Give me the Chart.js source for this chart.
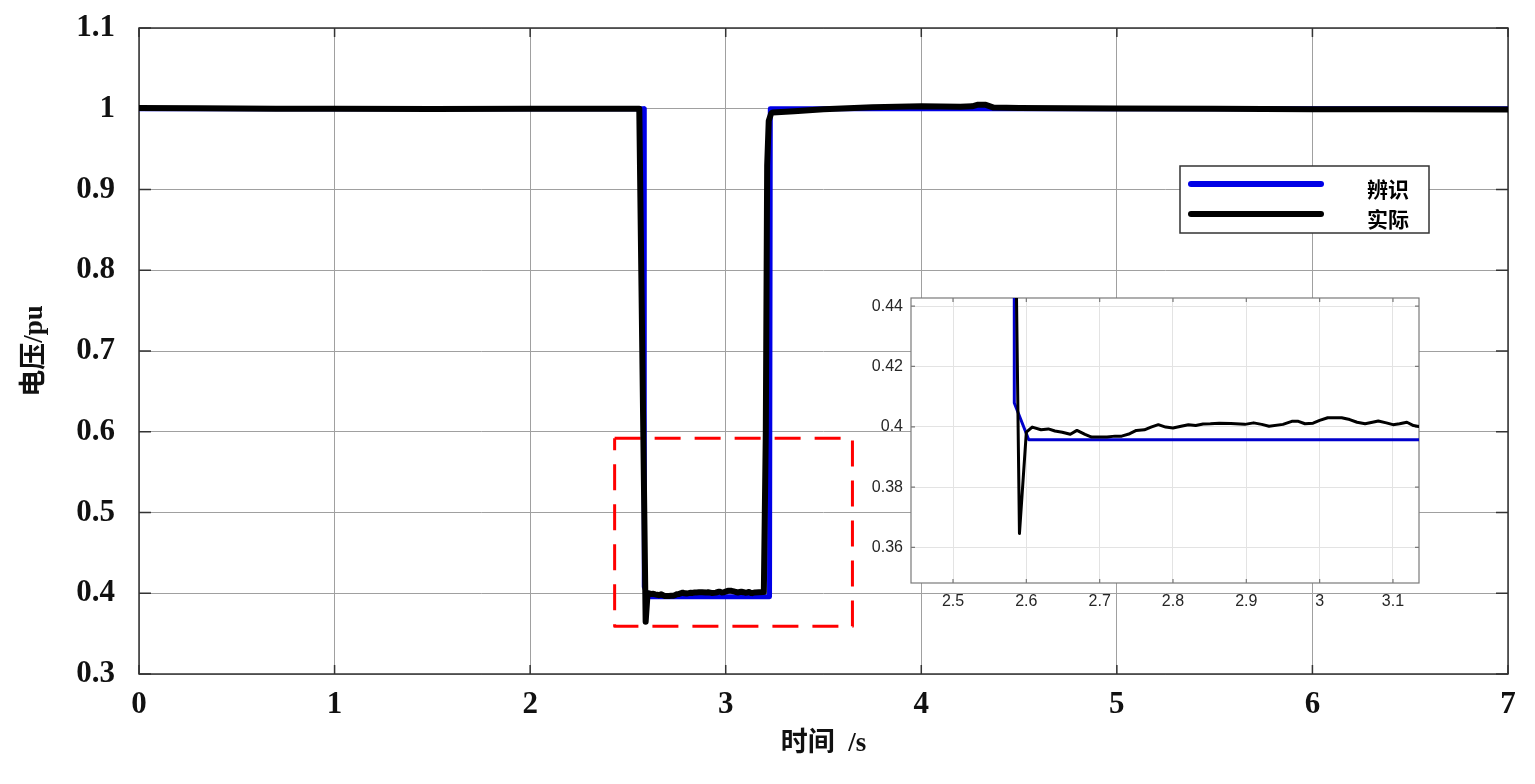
<!DOCTYPE html>
<html lang="zh">
<head>
    <meta charset="UTF-8">
    <title>电压辨识</title>
    <script src="https://cdn.jsdelivr.net/npm/chart.js"></script>
    <style>
        html, body { margin: 0; padding: 0; background: #fff; }
        #wrap { position: relative; width: 1535px; height: 784px; }
        #mainChart { position: absolute; left: 0; top: 0; }
        #zoomChart { position: absolute; left: 850px; top: 290px; }
    </style>
</head>
<body>
<div id="wrap">
    <canvas id="mainChart" width="1535" height="784"></canvas>
    <canvas id="zoomChart" width="580" height="330"></canvas>
</div>

<script>
// series names
const seriesNames = ['辨识', '实际'];

// 辨识 (identified) voltage, time in s, voltage in pu
const tIdent = [0, 2.583, 2.5836, 2.6033, 3.224, 3.228, 7];
const vIdent = [1.0, 1.0, 0.4079, 0.3957, 0.3957, 1.0, 1.0];

// 实际 (measured) voltage
const tMeas = [0, 0.3, 0.7, 1.0, 1.5, 2.0, 2.3, 2.5, 2.558, 2.5906,
    2.600, 2.608, 2.620, 2.630, 2.639, 2.649, 2.660, 2.669, 2.680, 2.689,
    2.700, 2.710, 2.721, 2.730, 2.741, 2.750, 2.761, 2.770, 2.780, 2.790,
    2.800, 2.811, 2.821, 2.831, 2.841, 2.851, 2.863, 2.879, 2.898, 2.910,
    2.921, 2.931, 2.950, 2.962, 2.971, 2.980, 2.991, 3.000, 3.011, 3.030,
    3.041, 3.051, 3.062, 3.072, 3.080, 3.091, 3.100, 3.109, 3.119, 3.128,
    3.135, 3.150, 3.170, 3.195, 3.205, 3.212, 3.220, 3.232, 3.240, 3.350,
    3.500, 3.750, 4.000, 4.200, 4.260, 4.290, 4.330, 4.370, 4.500, 5.000,
    5.500, 6.000, 6.500, 7.000];
const vMeas = [1.001, 1.0005, 1.0, 1.0, 0.9998, 1.0, 1.0, 1.0, 1.0, 0.3646,
    0.3982, 0.3999, 0.3990, 0.3993, 0.3986, 0.3982, 0.3975, 0.3988, 0.3975, 0.3966,
    0.3966, 0.3966, 0.3969, 0.3969, 0.3977, 0.3988, 0.3990, 0.3999, 0.4007, 0.3999,
    0.3996, 0.4002, 0.4007, 0.4004, 0.4009, 0.4010, 0.4012, 0.4011, 0.4008, 0.4013,
    0.4008, 0.4002, 0.4008, 0.4018, 0.4018, 0.4010, 0.4012, 0.4021, 0.4030, 0.4030,
    0.4024, 0.4015, 0.4010, 0.4015, 0.4019, 0.4013, 0.4007, 0.4010, 0.4015, 0.4004,
    0.4001, 0.4010, 0.4012, 0.4015, 0.60, 0.93, 0.985, 0.994, 0.9955, 0.997,
    0.9995, 1.002, 1.003, 1.0025, 1.003, 1.005, 1.0048, 1.0015, 1.001, 1.0003,
    1.0, 0.9995, 0.9995, 0.9992];

// dashed box marking the zoomed region
const boxT = [2.432, 3.648, 3.648, 2.432, 2.432];
const boxV = [0.592, 0.592, 0.359, 0.359, 0.592];

// tick labels
const mainXTicks = [0, 1, 2, 3, 4, 5, 6, 7];
const mainYTicks = [0.3, 0.4, 0.5, 0.6, 0.7, 0.8, 0.9, 1.0, 1.1];
const zoomXTicks = [2.5, 2.6, 2.7, 2.8, 2.9, 3.0, 3.1];
const zoomYTicks = [0.36, 0.38, 0.40, 0.42, 0.44];

const pts = (xs, ys) => xs.map((x, i) => ({x: x, y: ys[i]}));
const fmt = v => String(+v.toFixed(3));
const serif = '"Liberation Serif", "Times New Roman", "Noto Sans CJK SC", serif';
const sans = '"Liberation Sans", Arial, sans-serif';
const cjk = '"Liberation Serif", "Noto Sans CJK SC", serif';

Chart.defaults.animation = false;
Chart.defaults.plugins.tooltip.enabled = false;

// fixed axis sizes, and no label overhang padding (layout.padding decides the plot box)
const fixY = w => s => { s.width = w; s.paddingTop = 0; s.paddingBottom = 0; };
const fixX = h => s => { s.height = h; s.paddingLeft = 0; s.paddingRight = 0; };

// frame + inward tick marks, like matlab axes
function framePlugin(color, width, tickLen) {
    return {
        id: 'frame',
        beforeDatasetsDraw(chart) {
            const {ctx, chartArea: a, scales} = chart;
            ctx.save();
            ctx.strokeStyle = color;
            ctx.lineWidth = width;
            ctx.beginPath();
            scales.x.ticks.forEach(t => {
                const px = scales.x.getPixelForValue(t.value);
                ctx.moveTo(px, a.bottom); ctx.lineTo(px, a.bottom - tickLen[0]);
                ctx.moveTo(px, a.top); ctx.lineTo(px, a.top + tickLen[0]);
            });
            scales.y.ticks.forEach(t => {
                const py = scales.y.getPixelForValue(t.value);
                ctx.moveTo(a.left, py); ctx.lineTo(a.left + tickLen[1], py);
                ctx.moveTo(a.right, py); ctx.lineTo(a.right - tickLen[1], py);
            });
            ctx.stroke();
            ctx.strokeRect(a.left, a.top, a.right - a.left, a.bottom - a.top);
            ctx.restore();
        }
    };
}

const legendBox = {
    id: 'legendBox',
    afterDatasetsDraw(chart) {
        const ctx = chart.ctx;
        const colors = ['#0000e6', '#000000'];
        ctx.save();
        ctx.fillStyle = '#fff';
        ctx.fillRect(1180, 166, 249, 67);
        ctx.strokeStyle = '#333';
        ctx.lineWidth = 1.5;
        ctx.strokeRect(1180, 166, 249, 67);
        ctx.lineCap = 'round';
        ctx.lineWidth = 6;
        ctx.font = 'bold 21px ' + cjk;
        ctx.textAlign = 'center';
        ctx.textBaseline = 'middle';
        seriesNames.forEach((name, i) => {
            const y = 184 + i * 30;
            ctx.strokeStyle = colors[i];
            ctx.beginPath();
            ctx.moveTo(1191, y);
            ctx.lineTo(1321, y);
            ctx.stroke();
            ctx.fillStyle = '#000';
            ctx.fillText(name, 1388, y + 8);
        });
        ctx.restore();
    }
};

new Chart(document.getElementById('mainChart'), {
    type: 'line',
    data: {
        datasets: [{
            label: seriesNames[1],
            data: pts(tMeas, vMeas),
            borderColor: '#000000',
            borderWidth: 6,
            order: 0
        }, {
            label: seriesNames[0],
            data: pts(tIdent, vIdent),
            borderColor: '#0000e6',
            borderWidth: 5,
            order: 1
        }, {
            label: 'box',
            data: pts(boxT, boxV),
            borderColor: '#ff0000',
            borderWidth: 3,
            borderDash: [26, 14],
            borderCapStyle: 'butt',
            order: 2
        }]
    },
    options: {
        responsive: false,
        devicePixelRatio: 1,
        parsing: false,
        elements: {
            point: {radius: 0},
            line: {tension: 0, borderJoinStyle: 'round', borderCapStyle: 'round'}
        },
        layout: {padding: {top: 28, right: 27, left: 0, bottom: 0}},
        plugins: {legend: {display: false}},
        scales: {
            x: {
                type: 'linear',
                min: 0, max: 7,
                afterFit: fixX(110),
                afterBuildTicks: s => { s.ticks = mainXTicks.map(v => ({value: v})); },
                grid: {color: '#a0a0a0', lineWidth: 1, drawTicks: false},
                border: {display: false},
                ticks: {
                    color: '#111',
                    padding: 12,
                    maxRotation: 0,
                    font: {family: serif, size: 31, weight: 'bold'},
                    callback: v => fmt(v)
                },
                title: {
                    display: true,
                    text: '时间  /s',
                    color: '#111',
                    padding: {top: 0, bottom: 24},
                    font: {family: cjk, size: 27, weight: 'bold'}
                }
            },
            y: {
                type: 'linear',
                min: 0.3, max: 1.1,
                afterFit: fixY(139),
                afterBuildTicks: s => { s.ticks = mainYTicks.map(v => ({value: v})); },
                grid: {color: '#a0a0a0', lineWidth: 1, drawTicks: false},
                border: {display: false},
                ticks: {
                    color: '#111',
                    padding: 24,
                    font: {family: serif, size: 31, weight: 'bold'},
                    callback: v => fmt(v)
                },
                title: {
                    display: true,
                    text: '电压/pu',
                    color: '#111',
                    padding: {top: 19, bottom: 0},
                    font: {family: cjk, size: 27, weight: 'bold'}
                }
            }
        }
    },
    plugins: [framePlugin('#333', 1.5, [9, 12]), legendBox]
});

// inset: zoom of the sag
const whiteArea = {
    id: 'whiteArea',
    beforeDraw(chart) {
        const {ctx, chartArea: a} = chart;
        ctx.save();
        ctx.fillStyle = '#fff';
        ctx.fillRect(a.left, a.top, a.right - a.left, a.bottom - a.top);
        ctx.restore();
    }
};

new Chart(document.getElementById('zoomChart'), {
    type: 'line',
    data: {
        datasets: [{
            label: seriesNames[1],
            data: pts(tMeas, vMeas),
            borderColor: '#000000',
            borderWidth: 3,
            order: 0
        }, {
            label: seriesNames[0],
            data: pts(tIdent, vIdent),
            borderColor: '#0000cc',
            borderWidth: 3,
            order: 1
        }]
    },
    options: {
        responsive: false,
        devicePixelRatio: 1,
        parsing: false,
        elements: {
            point: {radius: 0},
            line: {tension: 0, borderJoinStyle: 'round'}
        },
        layout: {padding: {top: 8, right: 11, left: 0, bottom: 0}},
        plugins: {legend: {display: false}},
        scales: {
            x: {
                type: 'linear',
                min: 2.4427, max: 3.1355,
                afterFit: fixX(37),
                afterBuildTicks: s => { s.ticks = zoomXTicks.map(v => ({value: v})); },
                grid: {color: '#e3e3e3', lineWidth: 1, drawTicks: false},
                border: {display: false},
                ticks: {
                    color: '#262626',
                    padding: 9,
                    maxRotation: 0,
                    font: {family: sans, size: 16},
                    callback: v => fmt(v)
                }
            },
            y: {
                type: 'linear',
                min: 0.3482, max: 0.4427,
                afterFit: fixY(61),
                afterBuildTicks: s => { s.ticks = zoomYTicks.map(v => ({value: v})); },
                grid: {color: '#e3e3e3', lineWidth: 1, drawTicks: false},
                border: {display: false},
                ticks: {
                    color: '#262626',
                    padding: 8,
                    font: {family: sans, size: 16},
                    callback: v => fmt(v)
                }
            }
        }
    },
    plugins: [whiteArea, framePlugin('#7a7a7a', 1.2, [4, 4])]
});
</script>
</body>
</html>
